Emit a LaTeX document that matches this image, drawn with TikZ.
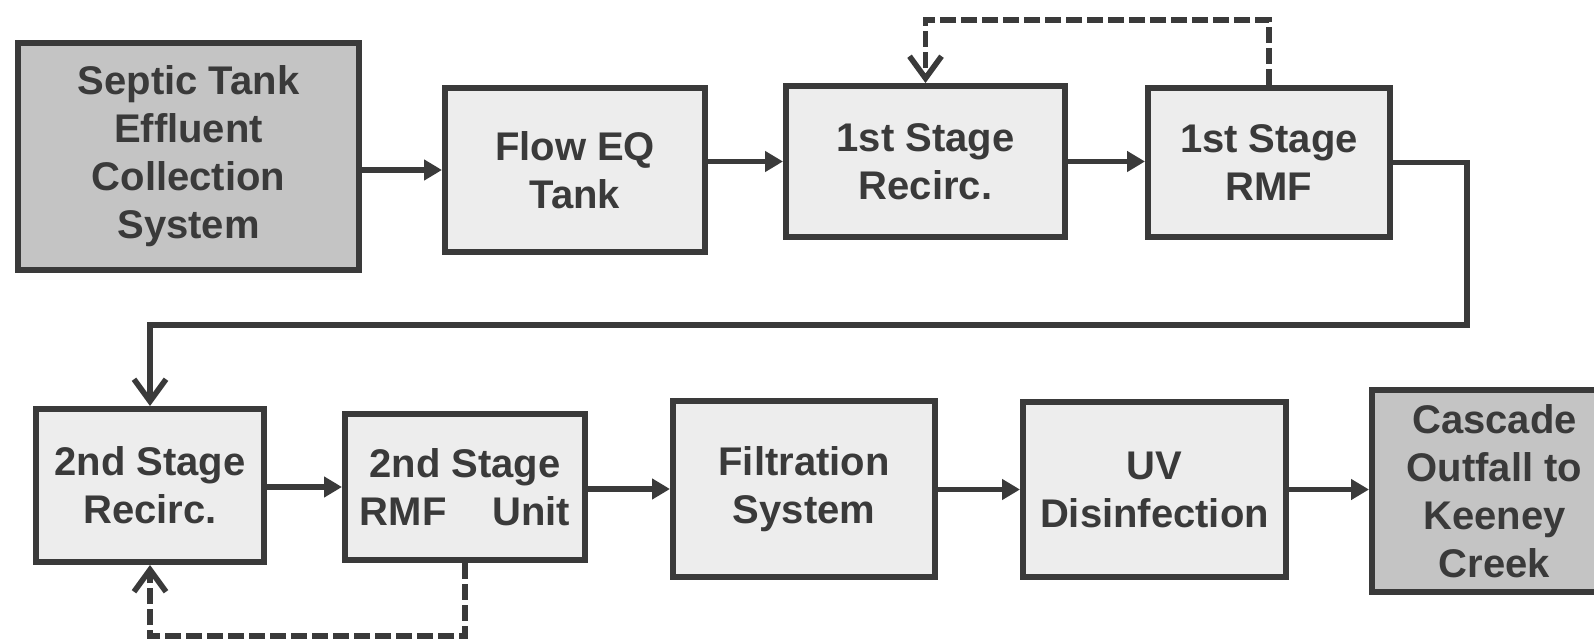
\documentclass[tikz,border=0pt]{standalone}
\usepackage{fontspec}
\setmainfont{Liberation Sans}
\usetikzlibrary{arrows.meta}
\definecolor{edge}{HTML}{3A3A3A}
\definecolor{pale}{HTML}{EDEDED}
\definecolor{dim}{HTML}{C4C4C4}
\begin{document}
\begin{tikzpicture}[x=0.5pt,y=-0.5pt,
		unit/.style={draw=edge, line width=3pt, fill=pale, inner sep=0pt, align=center, text=edge, font=\bfseries\fontsize{20}{24}\selectfont},
		ends/.style={unit, fill=dim},
		feed/.style={draw=edge, line width=2.8pt, -{Triangle[length=9pt,width=10pt]}},
		link/.style={draw=edge, line width=2.8pt, -{Straight Barb[length=11pt,width=16pt]}},
		back/.style={link, dash pattern=on 8pt off 2.5pt}]
				\useasboundingbox (0,0) rectangle (1594,641);
				\clip (0,0) rectangle (1594,641);
				\node[ends, minimum width=170.5pt, minimum height=113.5pt] (septic) at (188.5,156.5) {Septic Tank\\Effluent\\Collection\\System};
				\node[unit, minimum width=130pt, minimum height=82pt] (flow) at (575,170) {Flow EQ\\Tank};
				\node[unit, minimum width=139.5pt, minimum height=75.5pt] (rec1) at (925.5,161.5) {1st Stage\\Recirc.};
				\node[unit, minimum width=121pt, minimum height=74.5pt] (rmf1) at (1269,162.5) {1st Stage\\RMF};
				\node[unit, minimum width=114pt, minimum height=76.5pt] (rec2) at (150,485.5) {2nd Stage\\Recirc.};
				\node[unit, minimum width=120pt, minimum height=73pt] (rmf2) at (465,487) {2nd Stage\\RMF\hspace{1.15em}Unit};
				\node[unit, minimum width=131pt, minimum height=88pt] (filt) at (804,489) {Filtration\\System};
				\node[unit, minimum width=131.5pt, minimum height=87.5pt] (uv) at (1154.5,489.5) {UV\\Disinfection};
				\node[ends, minimum width=122.5pt, minimum height=101pt] (casc) at (1494.5,491) {Cascade\\Outfall to\\Keeney\\Creek};
				\coordinate (loopup) at (0,20);
				\coordinate (turn) at (1467,325);
				\coordinate (loopdown) at (0,636);
				\draw[feed] (septic.east |- flow.west) -- (flow.west);
				\draw[feed] (flow.east |- rec1.west) -- (rec1.west);
				\draw[feed] (rec1.east) -- (rmf1.west |- rec1.east);
				\draw[back] (rmf1.north) -- (rmf1.north |- loopup) -- (rec1.north |- loopup) -- (rec1.north);
				\draw[link] (rmf1.east) -| (turn) -| (rec2.north);
				\draw[feed] (rec2.east |- rmf2.west) -- (rmf2.west);
				\draw[feed] (rmf2.east |- filt.west) -- (filt.west);
				\draw[feed] (filt.east |- uv.west) -- (uv.west);
				\draw[feed] (uv.east) -- (casc.west |- uv.east);
				\draw[back] (rmf2.south) -- (rmf2.south |- loopdown) -- (rec2.south |- loopdown) -- (rec2.south);
			\end{tikzpicture}
\end{document}
